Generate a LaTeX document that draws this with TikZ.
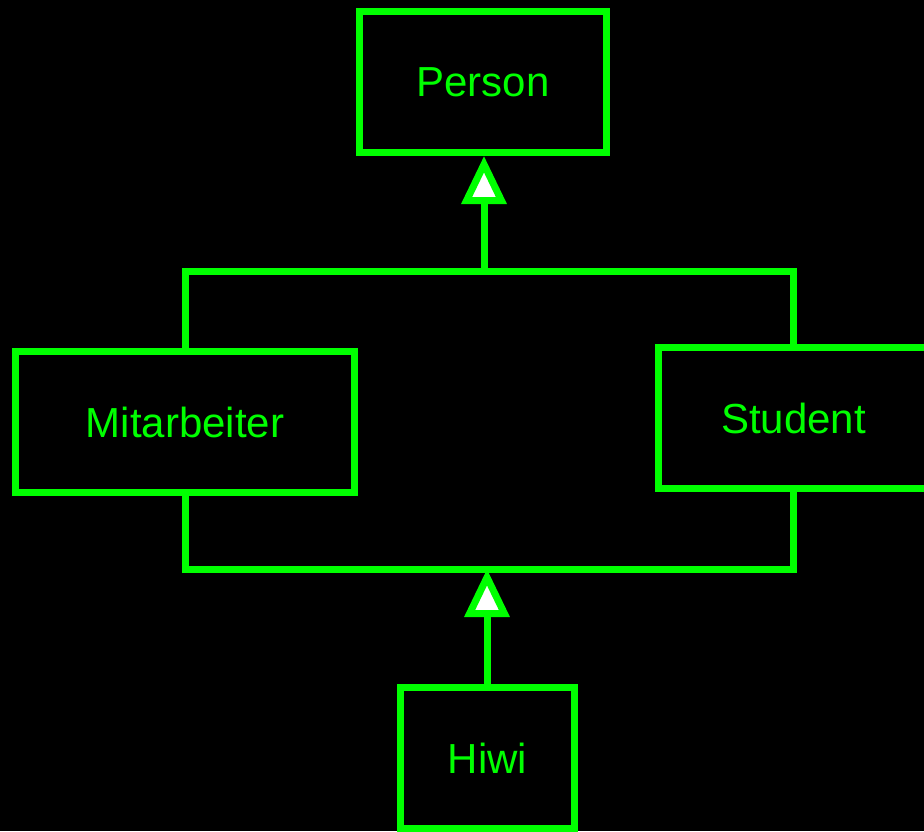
\documentclass[tikz,border=0pt]{standalone}
\usepackage{fontspec}
\setmainfont{Liberation Sans}
\usetikzlibrary{arrows.meta}
\definecolor{umlgruen}{RGB}{0,255,0}

\begin{document}
\begin{tikzpicture}[x=1pt,y=-1pt]
      \tikzset{
        klasse/.style={rectangle, draw=umlgruen, line width=7pt, text=umlgruen,
                       minimum height=141pt, inner sep=0pt,
                       font=\fontsize{42}{50}\selectfont},
        erbt/.style={-{Triangle[open, fill=white, length=48pt, width=44pt]},
                     draw=umlgruen, line width=7pt}
      }

      \fill[black] (0,0) rectangle (924,831);
      \useasboundingbox (0,0) rectangle (924,831);

      \node[klasse, minimum width=247pt] (person) at (483,82) {Person};
      \node[klasse, minimum width=339pt] (mitarbeiter) at (185,422) {Mitarbeiter};
      \node[klasse, minimum width=271pt] (student) at (793.5,418) {Student};
      \node[klasse, minimum width=174pt] (hiwi) at (487.5,758) {Hiwi};

      \coordinate (oben) at (484,271);
      \coordinate (unten) at (487,569);

      \draw[umlgruen, line width=7pt] (mitarbeiter.north) |- (oben) -| (student.north);
      \draw[umlgruen, line width=7pt] (mitarbeiter.south) |- (unten) -| (student.south);

      \draw[erbt] (oben) -- (person.south -| oben);
      \draw[erbt] (hiwi.north -| unten) -- (unten);

    \end{tikzpicture}
\end{document}
